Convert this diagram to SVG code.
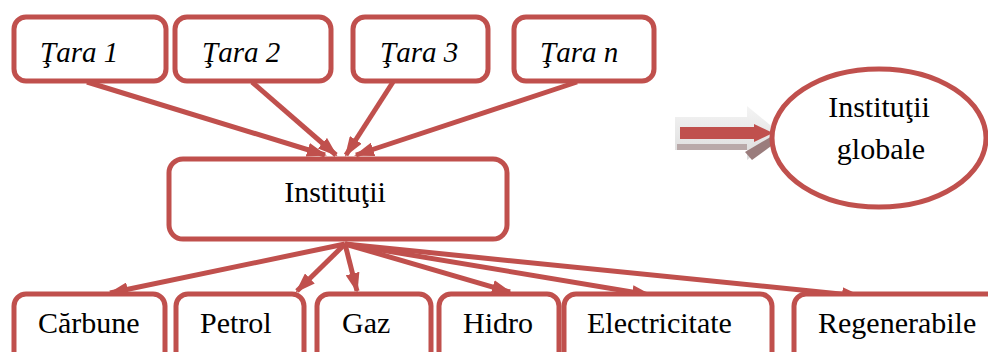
<svg xmlns="http://www.w3.org/2000/svg" width="988" height="352" viewBox="0 0 988 352">
<defs>
<style>
.box{fill:#fff;stroke:#C0504D;stroke-width:5}
.lbl{font-family:"Liberation Serif","Times New Roman",serif;font-size:30px;fill:#000}
.it{font-style:italic;font-size:29px}
.con{stroke:#C0504D;stroke-width:5;fill:none}
</style>
<marker id="ah" markerUnits="userSpaceOnUse" markerWidth="20" markerHeight="14" refX="18" refY="7" orient="auto">
<path d="M0,0 L20,7 L0,14 Z" fill="#C0504D"/>
</marker>
<linearGradient id="gg" x1="0" y1="0" x2="0" y2="1">
<stop offset="0" stop-color="#f4f4f4"/>
<stop offset="1" stop-color="#dcdcdc"/>
</linearGradient>
</defs>
<rect width="988" height="352" fill="#fff"/>
<g id="connectors">
<line class="con" x1="87" y1="82" x2="325" y2="155" marker-end="url(#ah)"/>
<line class="con" x1="252" y1="82" x2="336" y2="155" marker-end="url(#ah)"/>
<line class="con" x1="393" y1="82" x2="346" y2="155" marker-end="url(#ah)"/>
<line class="con" x1="577" y1="82" x2="356" y2="155" marker-end="url(#ah)"/>
<line class="con" x1="345" y1="244" x2="110" y2="293" marker-end="url(#ah)"/>
<line class="con" x1="345" y1="244" x2="297" y2="291" marker-end="url(#ah)"/>
<line class="con" x1="345" y1="244" x2="357" y2="291" marker-end="url(#ah)"/>
<line class="con" x1="345" y1="244" x2="510" y2="292" marker-end="url(#ah)"/>
<line class="con" x1="345" y1="244" x2="650" y2="295" marker-end="url(#ah)"/>
<line class="con" x1="345" y1="244" x2="860" y2="296" marker-end="url(#ah)"/>
</g>
<g id="tara1"><rect class="box" x="14" y="17" width="152" height="64" rx="12"/><text class="lbl it" x="40" y="62">Ţara 1</text></g>
<g id="tara2"><rect class="box" x="175" y="17" width="156" height="64" rx="12"/><text class="lbl it" x="202" y="62">Ţara 2</text></g>
<g id="tara3"><rect class="box" x="353" y="17" width="135" height="64" rx="12"/><text class="lbl it" x="380" y="62">Ţara 3</text></g>
<g id="taran"><rect class="box" x="514" y="17" width="140" height="64" rx="12"/><text class="lbl it" x="540" y="62">Ţara n</text></g>
<g id="institutii"><rect class="box" x="169" y="159" width="338" height="80" rx="14"/><text class="lbl" x="335" y="202" text-anchor="middle">Instituţii</text></g>
<g id="carbune"><rect class="box" x="14" y="294" width="151" height="70" rx="12"/><text class="lbl" x="38" y="333">Cărbune</text></g>
<g id="petrol"><rect class="box" x="176" y="294" width="128" height="70" rx="12"/><text class="lbl" x="200" y="333">Petrol</text></g>
<g id="gaz"><rect class="box" x="317" y="294" width="114" height="70" rx="12"/><text class="lbl" x="342" y="333">Gaz</text></g>
<g id="hidro"><rect class="box" x="439" y="294" width="120" height="70" rx="12"/><text class="lbl" x="463" y="333">Hidro</text></g>
<g id="electricitate"><rect class="box" x="564" y="294" width="208" height="70" rx="12"/><text class="lbl" x="587" y="333">Electricitate</text></g>
<g id="regenerabile"><rect class="box" x="794" y="294" width="210" height="70" rx="12"/><text class="lbl" x="818" y="333">Regenerabile</text></g>
<g id="block-arrow">
<polygon points="675,117 747,117 747,106 781,134 747,160 747,150 675,150" fill="url(#gg)"/>
<rect x="677" y="144" width="70" height="6" fill="#b9a9a9"/>
<polygon points="745,152 774,135 782,138 752,160" fill="#9a7c7c"/>
<rect x="680" y="127" width="76" height="12" fill="#C0504D"/>
<polygon points="754,124 773,133 754,142" fill="#C0504D"/>
</g>
<g id="institutii-globale"><ellipse cx="879" cy="138" rx="107" ry="69" fill="#fff" stroke="#C0504D" stroke-width="5"/><text class="lbl" x="879" y="117" text-anchor="middle">Instituţii</text><text class="lbl" x="881" y="159" text-anchor="middle">globale</text></g>
</svg>
